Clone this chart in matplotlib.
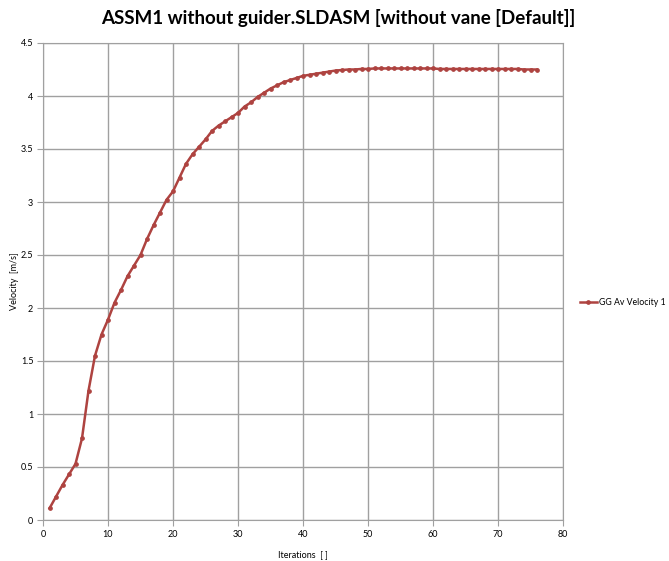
import matplotlib
matplotlib.use("Agg")
import matplotlib.pyplot as plt

# data
iterations = list(range(1, 77))
velocity = [
    0.11, 0.22, 0.33, 0.43, 0.53, 0.77, 1.22, 1.55, 1.75, 1.89,
    2.05, 2.17, 2.30, 2.40, 2.50, 2.65, 2.78, 2.90, 3.02, 3.10,
    3.23, 3.36, 3.45, 3.52, 3.59, 3.67, 3.72, 3.76, 3.80, 3.84,
    3.90, 3.94, 3.99, 4.03, 4.07, 4.10, 4.13, 4.15, 4.17, 4.19,
    4.20, 4.21, 4.22, 4.23, 4.24, 4.245, 4.25, 4.25, 4.255, 4.255,
    4.26, 4.26, 4.26, 4.26, 4.26, 4.26, 4.26, 4.26, 4.26, 4.26,
    4.255, 4.255, 4.255, 4.255, 4.255, 4.255, 4.255, 4.255, 4.255, 4.255,
    4.255, 4.255, 4.255, 4.25, 4.25, 4.25,
]
x_ticks = list(range(0, 81, 10))
y_ticks = [0, 0.5, 1, 1.5, 2, 2.5, 3, 3.5, 4, 4.5]
y_tick_labels = ["0", "0.5", "1", "1.5", "2", "2.5", "3", "3.5", "4", "4.5"]

plt.rcParams["font.family"] = ["Lato", "DejaVu Sans"]

W, H = 669, 561
fig = plt.figure(figsize=(W / 100, H / 100), dpi=100)
ax = fig.add_axes([43 / W, (H - 520) / H, (563 - 43) / W, (520 - 43) / H])

line_color = "#AE4340"
ax.plot(iterations, velocity, color=line_color, lw=1.8, marker="o",
        markersize=2.4, label="GG Av Velocity 1")

ax.set_xlim(0, 80)
ax.set_ylim(0, 4.5)
ax.set_xticks(x_ticks)
ax.set_yticks(y_ticks)
ax.set_yticklabels(y_tick_labels)
ax.grid(True, color="#a0a0a0", lw=1.0)
for side in ["top", "right", "left", "bottom"]:
    ax.spines[side].set_color("#a0a0a0")
ax.tick_params(labelsize=6.5, length=4, color="#a0a0a0", pad=3)

ax.set_xlabel("Iterations  [ ]", fontsize=6.5, labelpad=8)
ax.set_ylabel("Velocity  [m/s]", fontsize=6.5, labelpad=1)

fig.text(0.505, 1 - 18 / H, "ASSM1 without guider.SLDASM [without vane [Default]]",
         ha="center", va="center", fontsize=13.5, fontweight="bold")

ax.legend(loc="center left", bbox_to_anchor=(1.02, 0.455), frameon=False,
          fontsize=6.3, handlelength=2.0, handletextpad=0.2, borderaxespad=0.3)

fig.savefig("out.png", dpi=100)
